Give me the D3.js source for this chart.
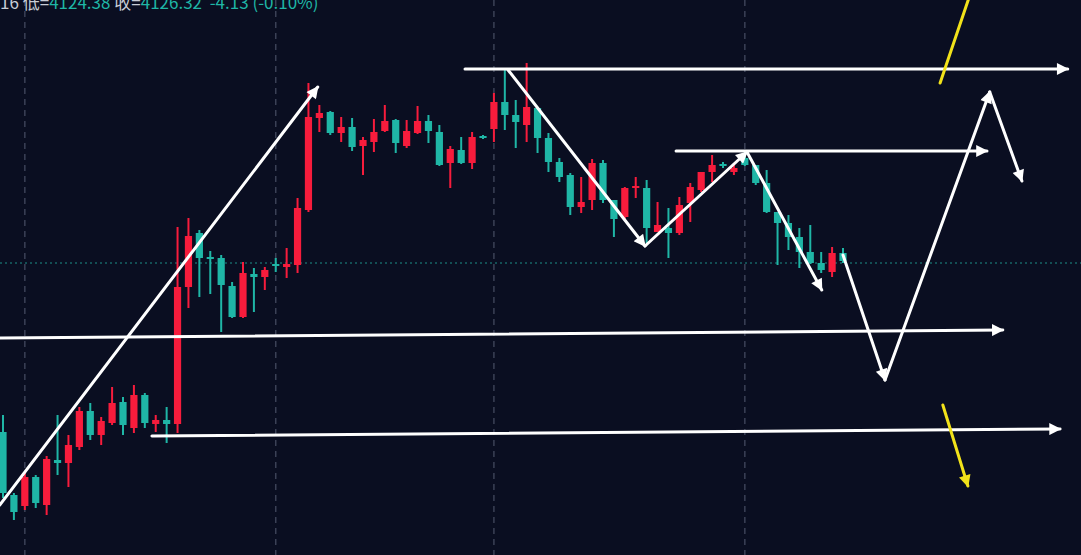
<!DOCTYPE html>
<html><head><meta charset="utf-8">
<script src="https://cdn.jsdelivr.net/npm/d3@7"></script>
<style>html,body{margin:0;padding:0;background:#0a0e21;overflow:hidden}</style>
</head><body>
<script>
// ---- data (index, OHLC in price units) ----
const open = [4084,4068.25,4065.5,4072.75,4065.75,4077,4076.25,4080.25,4089.25,4083.25,
4086.25,4091.5,4085,4093.25,4086,4087,4086,4120.25,4133.75,4127.75,
4127.5,4120.5,4112.75,4123.5,4122.75,4126,4125.25,4125.75,4139.5,4162.5,
4164,4158.75,4160.25,4155.5,4156.5,4159.25,4162,4155.5,4158.75,4161.75,
4159,4151.25,4154.5,4151.25,4158,4159.75,4166.5,4163.25,4160.75,4165,
4157.5,4151.5,4148.25,4140.25,4142,4151.25,4142,4137.75,4145,4145,
4134,4135,4133.75,4141.25,4144.5,4149,4151,4149,4152.5,4150.75,
4146.25,4139,4136.25,4132.75,4129,4126.25,4124,4128.75];
const close = [4068.75,4064,4072.75,4066.25,4077.25,4076.25,4080.75,4089.25,4083.25,4086.75,
4091.25,4085.75,4093.25,4086.25,4087,4086,4120.25,4133,4127.5,4127.25,
4120.75,4112.75,4123.75,4122.75,4124.5,4125.5,4126,4140,4162.75,4163.75,
4158.75,4160.25,4155.25,4157,4159,4161.75,4156.25,4159.25,4161.75,4159.25,
4150.75,4154.75,4151.25,4157.75,4157.5,4166.5,4163.25,4161.5,4165.25,4157.5,
4151.5,4147.75,4140.25,4141.5,4151.25,4142,4137.25,4145,4145.5,4135,
4135.75,4133.75,4140.75,4145.25,4149,4150.75,4150.5,4150,4150.75,4146.25,
4139,4136.25,4132.75,4129,4126.25,4124.5,4128.75,4126.75];
const high = [4088.25,4068.75,4073.75,4073.25,4078,4088.25,4083.25,4090.25,4091.25,4087.75,
4095.25,4092.75,4095.75,4093.75,4088.25,4090.25,4135.25,4137.5,4134.5,4129.25,
4128.25,4121.5,4126.5,4125,4125.25,4127.5,4130,4142.5,4171.25,4165.75,
4164.25,4162.75,4162.5,4157.75,4162.25,4165.75,4162.25,4162,4165.5,4163.25,
4160.75,4155.5,4157.75,4159,4158.25,4168.75,4175,4167,4176.25,4165,
4158.75,4152.5,4148.75,4147.75,4152.25,4152,4142,4145.25,4147.75,4147,
4141.5,4140,4142.75,4146.25,4149,4153.25,4151.5,4150.75,4154.5,4150.75,
4149.5,4139,4138.25,4135,4135.75,4129,4130.25,4130];
const low = [4067.5,4062,4064.5,4065,4063.25,4073.25,4070.25,4079.5,4082,4080.75,
4085.75,4083.25,4083.75,4085,4084,4081.25,4083.75,4115,4117.75,4118.5,
4109,4112.5,4112.5,4114,4119.5,4124,4122.5,4123.75,4139,4159,
4158.25,4156.5,4154.25,4148.25,4154,4159,4153.75,4155,4158.5,4156.25,
4150.5,4145,4151,4149.75,4157.25,4156.5,4159.5,4155,4156.5,4153.75,
4149,4146.5,4138.25,4138.75,4139.5,4141.25,4132.75,4137,4142.5,4131.25,
4134,4127.5,4133.25,4136.5,4144,4146.5,4150,4148.25,4150.5,4145.75,
4138.75,4125.75,4129.5,4125,4126,4123.75,4122.75,4126.25];
const gridIdx = [2, 25, 45, 68];
const lastPrice = 4126.25;

// header texts
const headerParts = [
  {t:"16 ", c:"#c8ccd6"}, {t:"低=", c:"#c8ccd6"}, {t:"4124.38 ", c:"#1fb6a6"},
  {t:"收=", c:"#c8ccd6"}, {t:"4126.32 ", c:"#1fb6a6"}, {t:" -4.13 (-0.10%)", c:"#1fb6a6"}
];

// annotations in (index, price)
const trendUp     = [[-0.3,4065.75],[28.85,4170.25]];
const topLine     = [[42.35,4174.75],[97.6,4174.75]];
const zigzag      = [[46.3,4174.5],[58.85,4130.5],[68.2,4154],[75.05,4119.5]];
const midLine     = [[61.7,4154.25],[90.2,4154.25]];
const forecast    = [[77,4128.25],[80.85,4097],[90.45,4169],[93.4,4146.75]];
const supportLine = [[-0.3,4107.5],[91.65,4109.5]];
const bottomLine  = [[13.65,4083],[96.9,4084.75]];
const yellowUp    = [[85.9,4171.25],[89.1,4197]];
const yellowDown  = [[86.15,4090.75],[88.45,4070.5]];

// ---- drawing ----
const W = 1081, H = 555;
const svg = d3.select("body").append("svg").attr("width", W).attr("height", H)
  .style("display","block").style("background","#0a0e21");

const x = d3.scaleLinear().domain([0, 77]).range([3, 843]);
const y = d3.scaleLinear().domain([4192 - H/4, 4192]).range([H, 0]);

const defs = svg.append("defs");
function marker(id, color){
  defs.append("marker").attr("id", id).attr("viewBox","0 0 10 10")
    .attr("refX", 9).attr("refY", 5).attr("markerUnits","userSpaceOnUse")
    .attr("markerWidth", 15).attr("markerHeight", 12).attr("orient","auto")
    .append("path").attr("d","M0,0 L10,5 L0,10 z").attr("fill", color);
}
marker("aw", "#ffffff");
marker("ay", "#f2e21a");

// vertical dashed grid
svg.append("g").selectAll("line").data(gridIdx).join("line")
  .attr("x1", d => x(d)).attr("x2", d => x(d)).attr("y1", 0).attr("y2", H)
  .attr("stroke", "#3b4156").attr("stroke-width", 1.5).attr("stroke-dasharray", "6,5");

// last price dotted line
svg.append("line").attr("x1", 0).attr("x2", W)
  .attr("y1", y(lastPrice)).attr("y2", y(lastPrice))
  .attr("stroke", "#1d8f88").attr("stroke-width", 1).attr("stroke-dasharray", "2,3");

// candles
const data = d3.range(open.length).map(i => ({i, o:open[i], c:close[i], h:high[i], l:low[i]}));
const up = "#f71c3c", down = "#1fb6a6";
const g = svg.append("g");
g.selectAll("line.w").data(data).join("line").attr("class","w")
  .attr("x1", d => x(d.i)).attr("x2", d => x(d.i))
  .attr("y1", d => y(d.h)).attr("y2", d => y(d.l))
  .attr("stroke", d => d.c >= d.o ? up : down).attr("stroke-width", 2);
g.selectAll("rect").data(data).join("rect")
  .attr("x", d => x(d.i) - 3.6).attr("width", 7.2)
  .attr("y", d => y(Math.max(d.o, d.c)))
  .attr("height", d => Math.max(2, Math.abs(y(d.o) - y(d.c))))
  .attr("fill", d => d.c >= d.o ? up : down);

// annotations
const ann = svg.append("g").attr("fill","none").attr("stroke-linecap","round");
function seg(p, q, color, arrow){
  const l = ann.append("line")
    .attr("x1", x(p[0])).attr("y1", y(p[1])).attr("x2", x(q[0])).attr("y2", y(q[1]))
    .attr("stroke", color).attr("stroke-width", 3);
  if (arrow) l.attr("marker-end", `url(#${arrow})`);
}
function path(pts, color, arrow){
  for (let k = 0; k < pts.length - 1; k++) seg(pts[k], pts[k+1], color, arrow);
}
path(trendUp, "#ffffff", "aw");
path(topLine, "#ffffff", "aw");
path(zigzag, "#ffffff", "aw");
path(midLine, "#ffffff", "aw");
path(forecast, "#ffffff", "aw");
path(supportLine, "#ffffff", "aw");
path(bottomLine, "#ffffff", "aw");
path(yellowUp, "#f2e21a", null);
path(yellowDown, "#f2e21a", "ay");

// header
const ht = svg.append("text").attr("x", 0).attr("y", 9)
  .attr("font-family", "'Noto Sans CJK SC', 'Noto Sans', sans-serif").attr("font-size", 17);
ht.selectAll("tspan").data(headerParts).join("tspan")
  .attr("fill", d => d.c).attr("xml:space","preserve").text(d => d.t);
</script>
</body></html>
